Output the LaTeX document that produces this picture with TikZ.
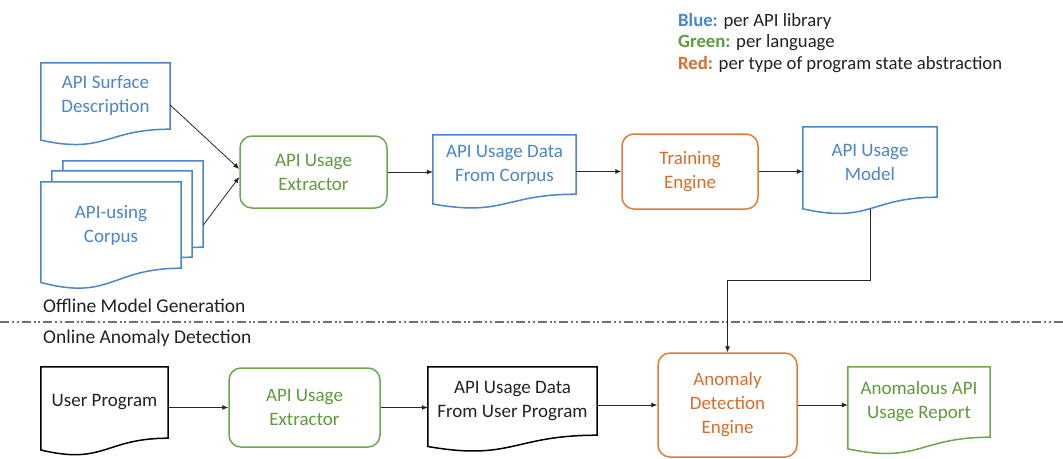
\documentclass[tikz,border=0pt]{standalone}
\usepackage{fontspec}
\setmainfont{Carlito}
\usetikzlibrary{arrows.meta,calc,backgrounds}
\definecolor{cblue}{HTML}{4A86C8}
\definecolor{cgreen}{HTML}{6AA84F}
\definecolor{cgreentext}{HTML}{5E9A3E}
\definecolor{corange}{HTML}{E07B39}
\definecolor{corangetext}{HTML}{D86D2A}
\definecolor{cgray}{HTML}{707070}
\definecolor{ctext}{HTML}{222222}
\newcommand\docoutline[2]{%
  \begin{pgfonlayer}{background}
  \draw[docline,#1] (#2.north west) -- (#2.north east) -- (#2.south east)
    .. controls (#2.south) and ($(#2.north)!1.38!(#2.south)$) ..
    ($(#2.north west)!1.165!(#2.south west)$) -- cycle;
  \end{pgfonlayer}}
\tikzset{
  boxtext/.style={font=\fontsize{19}{24}\selectfont, align=center, inner sep=0pt},
  docnode/.style={boxtext, rectangle},
  docline/.style={line width=1.5pt, line join=miter, fill=white},
  procbox/.style={boxtext, rectangle, rounded corners=12pt, line width=1.5pt, draw},
  conn/.style={-{Latex[length=6pt,width=5pt]}, line width=0.8pt, draw=black!85},
  seclabel/.style={font=\fontsize{19.5}{22}\selectfont, anchor=west, inner sep=0pt, text=ctext},
  legend/.style={font=\fontsize{18.7}{22}\selectfont, anchor=west, inner sep=0pt, text=ctext},
}
\begin{document}
\begin{tikzpicture}[x=1pt,y=-1pt]
\useasboundingbox (0,0) rectangle (1063,458);
\begin{pgfonlayer}{background}
\fill[white] (0,0) rectangle (1063,458);
\end{pgfonlayer}

% legend
\node[legend] (leg1) at (678,21) {\textcolor{cblue}{\textbf{Blue:}} per API library};
\node[legend] (leg2) at (678,43) {\textcolor{cgreentext}{\textbf{Green:}} per language};
\node[legend] (leg3) at (678,65) {\textcolor{corangetext}{\textbf{Red:}} per type of program state abstraction};

% offline row
\node[docnode, text=cblue, minimum width=129pt, minimum height=66pt] (surf) at (105.5,96) {API Surface\\Description};
\docoutline{draw=cblue}{surf}

\node[docnode, minimum width=140pt, minimum height=86pt] (corpusC) at (133,204) {};
\docoutline{draw=cblue}{corpusC}
\node[docnode, minimum width=140pt, minimum height=86pt] (corpusB) at (122,214) {};
\docoutline{draw=cblue}{corpusB}
\node[docnode, text=cblue, minimum width=140pt, minimum height=86pt] (corpus) at (111,225) {API-using\\Corpus};
\docoutline{draw=cblue}{corpus}

\node[procbox, draw=cgreen, text=cgreentext, minimum width=147pt, minimum height=72pt] (ext1) at (313.5,172) {API Usage\\Extractor};

\node[docnode, text=cblue, minimum width=143pt, minimum height=59pt] (dcorp) at (504.5,164.5) {API Usage Data\\From Corpus};
\docoutline{draw=cblue}{dcorp}

\node[procbox, draw=corange, text=corangetext, minimum width=136pt, minimum height=75pt] (train) at (690,171.5) {Training\\Engine};

\node[docnode, text=cblue, minimum width=134pt, minimum height=70pt] (model) at (870,162) {API Usage\\Model};
\docoutline{draw=cblue}{model}

% section labels and divider
\node[seclabel] (offl) at (43,306) {Offline Model Generation};
\node[seclabel] (onl) at (43,338) {Online Anomaly Detection};
\coordinate (divl) at (0,322);
\coordinate (divr) at (1063,322);
\draw[cgray, line width=1.4pt, dash pattern=on 9pt off 3pt on 2pt off 2.5pt on 2pt off 3pt] (divl) -- (divr);

% online row
\node[docnode, text=ctext, minimum width=127pt, minimum height=71pt] (user) at (104.5,402.5) {User Program};
\docoutline{draw=black}{user}

\node[procbox, draw=cgreen, text=cgreentext, minimum width=151pt, minimum height=79pt] (ext2) at (304.5,407.5) {API Usage\\Extractor};

\node[docnode, text=ctext, minimum width=169pt, minimum height=68pt] (duser) at (512.5,401) {API Usage Data\\From User Program};
\docoutline{draw=black}{duser}

\node[procbox, draw=corange, text=corangetext, minimum width=139pt, minimum height=104pt] (anom) at (727.5,405) {Anomaly\\Detection\\Engine};

\node[docnode, text=cgreentext, minimum width=142pt, minimum height=70pt] (report) at (919,402) {Anomalous API\\Usage Report};
\docoutline{draw=cgreen}{report}

% connectors
\coordinate (surfout) at ($(surf.east)+(0,9)$);
\coordinate (corpout) at ($(corpusC.south east)!0.256!(corpusC.north east)$);
\draw[conn] (surfout) -- ($(ext1.west)+(0,-3)$);
\draw[conn] (corpout) -- ($(ext1.west)+(0,5)$);
\draw[conn] (ext1.east) -- (ext1.east -| dcorp.west);
\draw[conn] (train.west -| dcorp.east) -- (train.west);
\draw[conn] (train.east) -- (train.east -| model.west);
\coordinate (modelout) at ($(model.north)!1.163!(model.south)$);
\draw[conn] (modelout) |- ($(anom.north)+(0,-72)$) -- (anom.north);

\draw[conn] (ext2.west -| user.east) -- (ext2.west);
\draw[conn] (ext2.east) -- (ext2.east -| duser.west);
\draw[conn] (anom.west -| duser.east) -- (anom.west);
\draw[conn] (anom.east) -- (anom.east -| report.west);
\end{tikzpicture}
\end{document}
